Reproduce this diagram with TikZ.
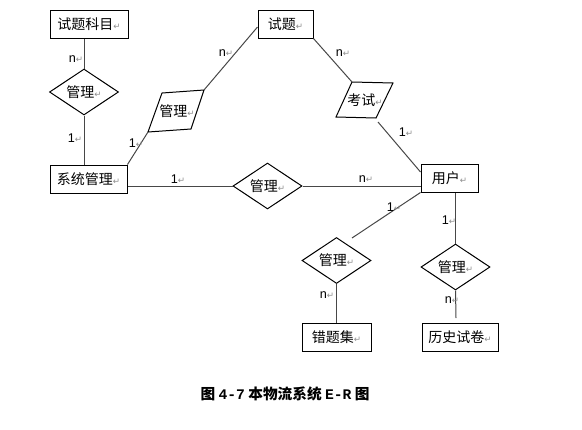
\documentclass[tikz,border=0pt]{standalone}
\usepackage{fontspec}
\setmainfont{Liberation Sans}
\newfontfamily\cjk{Noto Sans CJK SC}
\newfontfamily\sym{DejaVu Sans}
\newfontfamily\mono{Liberation Mono}
\usetikzlibrary{shapes.geometric}
\newcommand\rmark{{\sym\color{black!45}\fontsize{6.5}{7}\selectfont ↵}}
\tikzset{
  entity/.style={draw=black, line width=0.75pt, rectangle, inner sep=0pt,
    minimum height=21pt, font=\cjk\fontsize{10.5}{12}\selectfont},
  relation/.style={draw=black, line width=0.75pt, diamond, shape aspect=1.6,
    inner sep=0pt, minimum width=51.75pt, minimum height=34.5pt,
    font=\cjk\fontsize{10.5}{12}\selectfont},
  rellabel/.style={inner sep=0pt, font=\cjk\fontsize{10.5}{12}\selectfont},
  conn/.style={draw=black!72, line width=0.75pt},
  card/.style={inner sep=0pt, font=\fontsize{9.5}{11}\selectfont}
}
\begin{document}
\begin{tikzpicture}[x=0.75pt, y=-0.75pt]
\useasboundingbox (0,0) rectangle (582,429);
% entities
\node[entity, minimum width=58.5pt]  (km) at (89,24)    {试题科目\rmark};
\node[entity, minimum width=41.25pt] (st) at (285.5,24) {试题\rmark};
\node[entity, minimum width=57.75pt] (xt) at (88.5,179) {系统管理\rmark};
\node[entity, minimum width=42.75pt] (yh) at (449.5,178){用户\rmark};
\node[entity, minimum width=51.75pt] (ct) at (336.5,337){错题集\rmark};
\node[entity, minimum width=57pt]    (ls) at (460,337)  {历史试卷\rmark};
% diamonds
\node[relation] (d1) at (84,92)     {管理\rmark};
\node[relation] (d2) at (267.5,186) {管理\rmark};
\node[relation] (d3) at (336.5,260.5) {管理\rmark};
\node[relation] (d4) at (455.5,267) {管理\rmark};
% parallelograms
\coordinate (p1tl) at (162,93);
\coordinate (p1tr) at (204,90);
\coordinate (p1br) at (191,129);
\coordinate (p1bl) at (148,132);
\draw[line width=0.75pt] (p1tl) -- (p1tr) -- (p1br) -- (p1bl) -- cycle;
\node[rellabel] (p1) at (177,111) {管理\rmark};
\coordinate (p2tl) at (352,82);
\coordinate (p2tr) at (393,83);
\coordinate (p2br) at (376,118);
\coordinate (p2bl) at (336,117);
\draw[line width=0.75pt] (p2tl) -- (p2tr) -- (p2br) -- (p2bl) -- cycle;
\node[rellabel] (p2) at (365,100) {考试\rmark};
% free ends
\coordinate (c2) at (378,122);
\coordinate (c3) at (352,238);
\coordinate (c4) at (456,318);
% connectors
\draw[conn] (d1.north) -- (d1.north |- km.south);
\draw[conn] (d1.south) -- (d1.south |- xt.north);
\draw[conn] (xt.north east) -- (p1bl);
\draw[conn] (p1tr) -- ([yshift=-2.25pt]st.west);
\draw[conn] (st.south east) -- (p2tl);
\draw[conn] (c2) -- ([yshift=4.5pt]yh.west);
\draw[conn] (d2.west) -- (d2.west -| xt.east);
\draw[conn] (d2.east) -- (d2.east -| yh.west);
\draw[conn] (yh.south west) -- (c3);
\draw[conn] (d3.south) -- (ct.north);
\draw[conn] (d4.north) -- (d4.north |- yh.south);
\draw[conn] (d4.south) -- (c4);
% cardinalities
\node[card] (n1) at (76,59)   {n\rmark};
\node[card] (n2) at (75,138)  {1\rmark};
\node[card] (n3) at (136,143) {1\rmark};
\node[card] (n4) at (226,53)  {n\rmark};
\node[card] (n5) at (343,53)  {n\rmark};
\node[card] (n6) at (406,132) {1\rmark};
\node[card] (n7) at (178,179) {1\rmark};
\node[card] (n8) at (366,179) {n\rmark};
\node[card] (n9) at (394,207) {1\rmark};
\node[card] (n10) at (449,220) {1\rmark};
\node[card] (n11) at (327,295) {n\rmark};
\node[card] (n12) at (452,300) {n\rmark};
% caption
\node[inner sep=0pt, font=\cjk\bfseries\fontsize{11}{13}\selectfont] (cap) at (285,394)
  {图 {\mono\bfseries 4-7} 本物流系统 {\mono\bfseries E-R} 图};
\end{tikzpicture}
\end{document}
